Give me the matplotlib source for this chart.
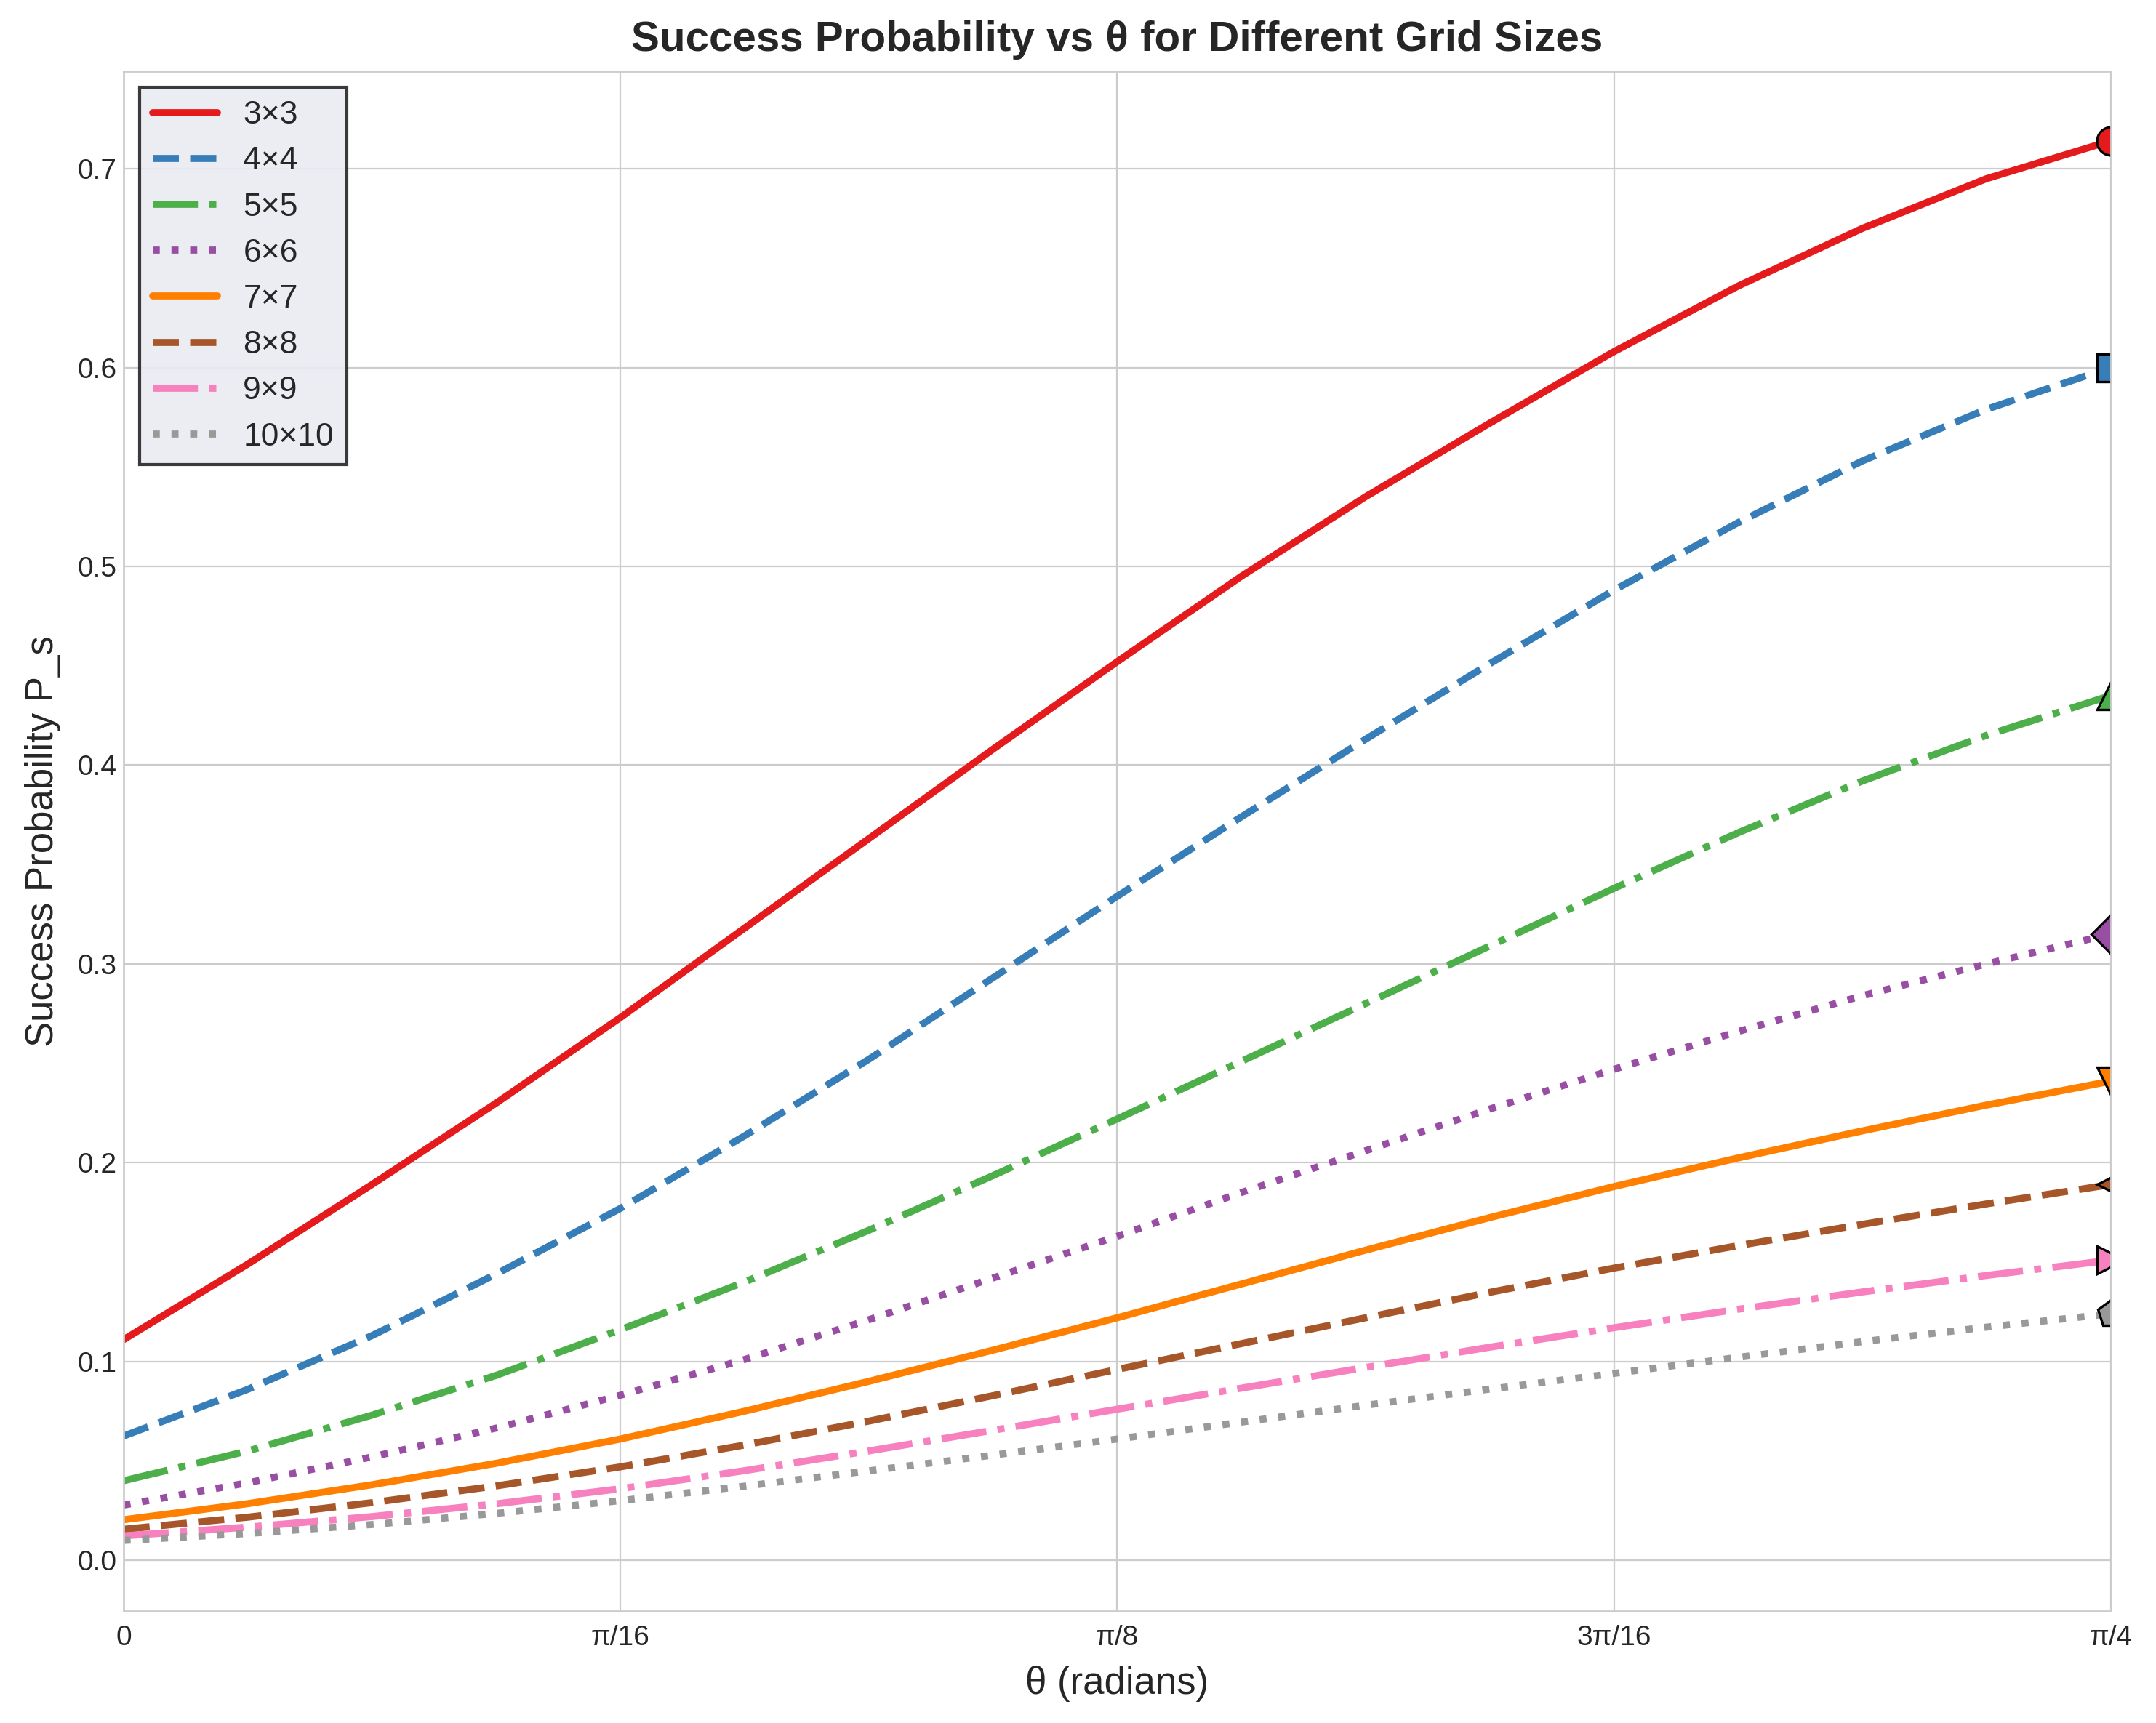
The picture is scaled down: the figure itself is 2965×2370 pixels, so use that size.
import numpy as np
import matplotlib
matplotlib.use("Agg")
import matplotlib.pyplot as plt

plt.style.use("seaborn-v0_8-whitegrid")
plt.rcParams['font.family'] = ['Liberation Sans', 'DejaVu Sans']

# theta samples, k * pi/64 for k = 0..16
theta = np.arange(17) * np.pi / 64

grid_labels = ["3×3", "4×4", "5×5", "6×6", "7×7", "8×8", "9×9", "10×10"]

# success probability
p_3 = [0.111, 0.149, 0.189, 0.230, 0.273, 0.318, 0.363, 0.408, 0.452,
       0.495, 0.535, 0.572, 0.608, 0.641, 0.670, 0.695, 0.714]
p_4 = [0.0625, 0.086, 0.113, 0.144, 0.177, 0.2135, 0.252, 0.293, 0.334,
       0.374, 0.413, 0.451, 0.488, 0.522, 0.553, 0.579, 0.600]
p_5 = [0.040, 0.055, 0.073, 0.093, 0.116, 0.140, 0.166, 0.1935, 0.222,
       0.251, 0.280, 0.309, 0.338, 0.366, 0.392, 0.415, 0.435]
p_6 = [0.0278, 0.039, 0.052, 0.0665, 0.083, 0.101, 0.121, 0.142, 0.163,
       0.185, 0.206, 0.227, 0.247, 0.266, 0.284, 0.300, 0.315]
p_7 = [0.0204, 0.0285, 0.038, 0.0488, 0.061, 0.075, 0.090, 0.1057, 0.122,
       0.139, 0.156, 0.1724, 0.188, 0.2024, 0.216, 0.229, 0.241]
p_8 = [0.0156, 0.0217, 0.029, 0.0374, 0.047, 0.058, 0.070, 0.0828, 0.096,
       0.109, 0.122, 0.1348, 0.147, 0.1583, 0.169, 0.1793, 0.189]
p_9 = [0.0123, 0.0167, 0.022, 0.0284, 0.036, 0.0451, 0.055, 0.0654, 0.076,
       0.0866, 0.097, 0.1072, 0.117, 0.1263, 0.135, 0.1433, 0.151]
p_10 = [0.0100, 0.0135, 0.018, 0.0236, 0.030, 0.0373, 0.045, 0.0529, 0.061,
        0.0695, 0.078, 0.0861, 0.094, 0.1021, 0.110, 0.1173, 0.124]
series = [p_3, p_4, p_5, p_6, p_7, p_8, p_9, p_10]

colors = ['#e41a1c', '#377eb8', '#4daf4a', '#984ea3',
          '#ff7f00', '#a65628', '#f781bf', '#999999']
styles = ['-', '--', '-.', ':', '-', '--', '-.', ':']
markers = ['o', 's', '^', 'D', 'v', '<', '>', 'p']

tick_pos = [0, np.pi / 16, np.pi / 8, 3 * np.pi / 16, np.pi / 4]
tick_lab = ['0', 'π/16', 'π/8', '3π/16', 'π/4']

fig = plt.figure(figsize=(14.825, 11.85), dpi=200)
ax = fig.add_axes([0.0573, 0.065, 0.9217, 0.8936])

for p, lab, c, ls, m in zip(series, grid_labels, colors, styles, markers):
    ax.plot(theta, p, color=c, linestyle=ls, linewidth=3.5, label=lab)
    # marker only on the last point, kept out of the legend
    ax.plot(theta[-1], p[-1], marker=m, markersize=14, color=c,
            markeredgecolor='black', markeredgewidth=1.2, linestyle='none')

ax.set_xlim(0, np.pi / 4)
ax.set_ylim(-0.0255, 0.749)
ax.set_xticks(tick_pos)
ax.set_xticklabels(tick_lab)
ax.set_yticks(np.arange(0, 0.71, 0.1))
ax.tick_params(labelsize=14, colors='#262626')
ax.tick_params(axis='x', pad=7)

ax.set_title('Success Probability vs θ for Different Grid Sizes',
             fontsize=21, fontweight='bold', color='#262626', pad=10)
ax.set_xlabel('θ (radians)', fontsize=19, color='#262626', labelpad=7)
ax.set_ylabel('Success Probability P_s', fontsize=19, color='#262626', labelpad=8)

leg = ax.legend(loc='upper left', fontsize=16, frameon=True, fancybox=False,
                facecolor='#EAEAF2', edgecolor='#262626', framealpha=0.9)
leg.get_frame().set_linewidth(1.5)

fig.savefig('out.png', dpi=200)
